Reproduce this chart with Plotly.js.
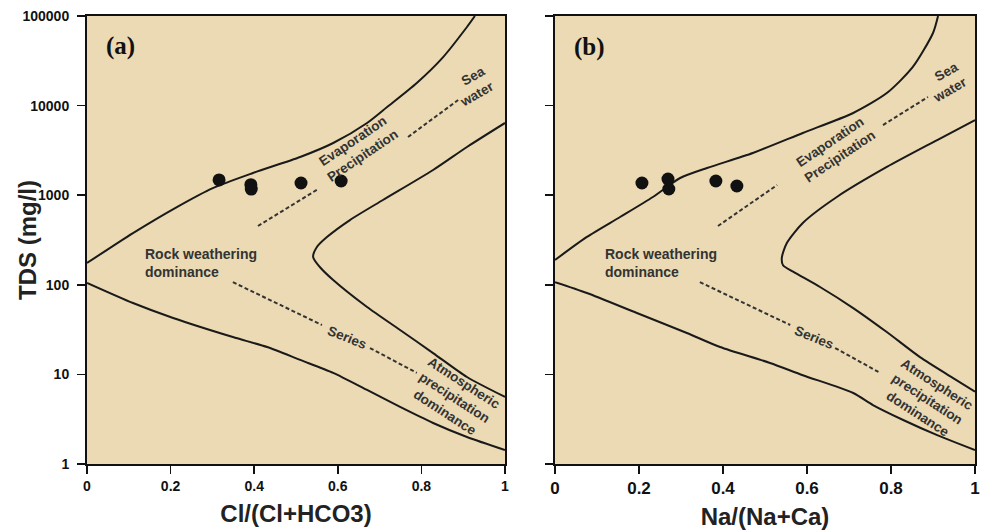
<!DOCTYPE html>
<html>
<head>
<meta charset="utf-8">
<script src="https://cdn.plot.ly/plotly-3.0.1.min.js"></script>
<style>html,body{margin:0;padding:0;background:#fff;}#chart{width:984px;height:530px;}</style>
</head>
<body>
<div id="chart"></div>
<script>
// ---------- Panel (a): Cl/(Cl+HCO3) ----------
const aUpperX = [0, 0.110, 0.215, 0.301, 0.397, 0.510, 0.589, 0.670, 0.718, 0.789, 0.852, 0.909, 0.928];
const aUpperY = [175, 378, 738, 1202, 1770, 2670, 3825, 6400, 9650, 17900, 34800, 75400, 100000];
const aInnerX = [1, 0.909, 0.828, 0.708, 0.629, 0.574, 0.550, 0.541, 0.557, 0.589, 0.670, 0.749, 0.828, 0.909, 1];
const aInnerY = [6400, 3450, 1910, 884, 528, 341, 264, 204, 158, 113, 56.5, 31.3, 17.3, 9.35, 5.6];
const aLowerX = [0, 0.110, 0.206, 0.349, 0.431, 0.510, 0.589, 0.670, 0.749, 0.828, 0.909, 1];
const aLowerY = [105, 62.6, 42.6, 26.1, 20.2, 14.5, 10.4, 6.7, 4.33, 2.87, 2.0, 1.43];
const aEvapDash1X = [0.409, 0.553], aEvapDash1Y = [453, 1172];
const aEvapDash2X = [0.768, 0.888], aEvapDash2Y = [4466, 11550];
const aSerDash1X = [0.349, 0.562], aSerDash1Y = [107, 35.6];
const aSerDash2X = [0.677, 0.789], aSerDash2Y = [19.7, 10.4];
const aSampleX = [0.316, 0.392, 0.393, 0.512, 0.608];
const aSampleY = [1479, 1310, 1170, 1368, 1440];

// ---------- Panel (b): Na/(Na+Ca) ----------
const bUpperX = [0, 0.076, 0.155, 0.233, 0.298, 0.362, 0.471, 0.590, 0.710, 0.790, 0.852, 0.900, 0.912];
const bUpperY = [189, 342, 571, 955, 1556, 2013, 2960, 4950, 8270, 13800, 27000, 64600, 100000];
const bInnerX = [1, 0.910, 0.790, 0.671, 0.590, 0.552, 0.540, 0.543, 0.567, 0.631, 0.710, 0.790, 0.869, 0.948, 1];
const bInnerY = [6900, 4130, 2065, 955, 490, 293, 200, 165, 140, 94.5, 55, 29.7, 15.6, 9.1, 6.4];
const bLowerX = [0, 0.076, 0.195, 0.314, 0.393, 0.512, 0.590, 0.710, 0.757, 0.829, 0.910, 1];
const bLowerY = [107, 81, 48.4, 29, 20.2, 13.4, 9.8, 6.2, 4.55, 3.1, 2.1, 1.43];
const bEvapDash1X = [0.388, 0.529], bEvapDash1Y = [453, 1300];
const bEvapDash2X = [0.781, 0.888], bEvapDash2Y = [6070, 12470];
const bSerDash1X = [0.345, 0.560], bSerDash1Y = [107, 35.6];
const bSerDash2X = [0.667, 0.774], bSerDash2Y = [19.7, 10.4];
const bSampleX = [0.207, 0.269, 0.271, 0.383, 0.433];
const bSampleY = [1368, 1517, 1173, 1440, 1267];

// Tick labels
const xTickVals = [0, 0.2, 0.4, 0.6, 0.8, 1];
const xTickText = ['0', '0.2', '0.4', '0.6', '0.8', '1'];
const yTickVals = [1, 10, 100, 1000, 10000, 100000];
const yTickText = ['1', '10', '100', '1000', '10000', '100000'];

const LINE = '#1a1a1a';
const TXT = '#333333';

function curve(x, y, xa, ya) {
  return {x: x, y: y, xaxis: xa, yaxis: ya, mode: 'lines', type: 'scatter',
    line: {color: LINE, width: 2, shape: 'spline', smoothing: 0.7}, hoverinfo: 'skip', showlegend: false};
}
function dashed(x, y, xa, ya) {
  return {x: x, y: y, xaxis: xa, yaxis: ya, mode: 'lines', type: 'scatter',
    line: {color: TXT, width: 2, dash: '4px,2.5px'}, hoverinfo: 'skip', showlegend: false};
}
function samples(x, y, xa, ya) {
  return {x: x, y: y, xaxis: xa, yaxis: ya, mode: 'markers', type: 'scatter',
    marker: {color: '#111', size: 13}, showlegend: false};
}

const data = [
  curve(aUpperX, aUpperY, 'x', 'y'),
  curve(aInnerX, aInnerY, 'x', 'y'),
  curve(aLowerX, aLowerY, 'x', 'y'),
  dashed(aEvapDash1X, aEvapDash1Y, 'x', 'y'),
  dashed(aEvapDash2X, aEvapDash2Y, 'x', 'y'),
  dashed(aSerDash1X, aSerDash1Y, 'x', 'y'),
  dashed(aSerDash2X, aSerDash2Y, 'x', 'y'),
  samples(aSampleX, aSampleY, 'x', 'y'),
  curve(bUpperX, bUpperY, 'x2', 'y2'),
  curve(bInnerX, bInnerY, 'x2', 'y2'),
  curve(bLowerX, bLowerY, 'x2', 'y2'),
  dashed(bEvapDash1X, bEvapDash1Y, 'x2', 'y2'),
  dashed(bEvapDash2X, bEvapDash2Y, 'x2', 'y2'),
  dashed(bSerDash1X, bSerDash1Y, 'x2', 'y2'),
  dashed(bSerDash2X, bSerDash2Y, 'x2', 'y2'),
  samples(bSampleX, bSampleY, 'x2', 'y2')
];

const W = 984, H = 530;
const yDom = [1 - 464 / H, 1 - 16 / H];

function xAxis(dom, fontSize, title) {
  return {domain: dom, range: [0, 1], tickvals: xTickVals, ticktext: xTickText,
    showline: true, mirror: true, linecolor: '#111', linewidth: 2, zeroline: false, showgrid: false,
    ticks: 'outside', ticklen: 8, tickwidth: 1.5, tickcolor: '#111',
    tickfont: {family: 'Liberation Sans, Arial, sans-serif', size: fontSize, color: '#111', weight: 'bold'},
    title: {text: title, standoff: 12, font: {family: 'Liberation Sans, Arial, sans-serif', size: 24, color: '#222', weight: 'bold'}},
    fixedrange: true};
}
function yAxis(anchor, showLabels) {
  return {domain: yDom, anchor: anchor, type: 'log', range: [0, 5], tickvals: yTickVals, ticktext: yTickText,
    showticklabels: showLabels, showline: true, mirror: true, linecolor: '#111', linewidth: 2,
    zeroline: false, showgrid: false, ticks: 'outside', ticklen: 8, tickwidth: 1.5, tickcolor: '#111',
    ticklabelstandoff: 5,
    tickfont: {family: 'Liberation Sans, Arial, sans-serif', size: 14, color: '#111', weight: 'bold'},
    fixedrange: true};
}

const lblFont = {family: 'Liberation Sans, Arial, sans-serif', size: 13.5, color: TXT, weight: 'bold'};
const rwFont = {family: 'Liberation Sans, Arial, sans-serif', size: 14, color: TXT, weight: 'bold'};
const panelFont = {family: 'Liberation Serif, Times New Roman, serif', size: 25, color: '#111', weight: 'bold'};

function panelAnnots(xr, yr, letter, pos) {
  return [
    {xref: xr, yref: yr, x: pos.letter[0], y: pos.letter[1], text: letter, showarrow: false, font: panelFont},
    {xref: xr, yref: yr, x: pos.rock[0], y: pos.rock[1], text: 'Rock weathering<br>dominance', showarrow: false,
      xanchor: 'left', align: 'left', font: rwFont},
    {xref: xr, yref: yr, x: pos.evap[0], y: pos.evap[1], text: 'Evaporation<br>Precipitation', showarrow: false,
      textangle: -34, font: lblFont},
    {xref: xr, yref: yr, x: pos.sea[0], y: pos.sea[1], text: 'Sea<br>water', showarrow: false,
      textangle: -30, align: 'right', font: lblFont},
    {xref: xr, yref: yr, x: pos.series[0], y: pos.series[1], text: 'Series', showarrow: false,
      textangle: 22, font: lblFont},
    {xref: xr, yref: yr, x: pos.atm[0], y: pos.atm[1], text: 'Atmospheric<br>precipitation<br>dominance', showarrow: false,
      textangle: 33, font: lblFont}
  ];
}

const annotations = [].concat(
  panelAnnots('x', 'y', '(a)', {letter: [0.079, 4.665], rock: [0.134, 2.238], evap: [0.648, 3.52],
    sea: [0.923, 4.213], series: [0.622, 1.417], atm: [0.880, 0.737]}),
  panelAnnots('x2', 'y2', '(b)', {letter: [0.083, 4.654], rock: [0.114, 2.238], evap: [0.666, 3.514],
    sea: [0.930, 4.263], series: [0.617, 1.417], atm: [0.886, 0.725]}),
  [{xref: 'paper', yref: 'paper', x: 27 / W, y: 1 - 240 / H, xanchor: 'center', yanchor: 'middle',
    text: 'TDS (mg/l)', textangle: -90, showarrow: false,
    font: {family: 'Liberation Sans, Arial, sans-serif', size: 24, color: '#222', weight: 'bold'}}]
);

const layout = {
  width: W, height: H,
  margin: {l: 0, r: 0, t: 0, b: 0},
  paper_bgcolor: '#ffffff',
  plot_bgcolor: '#ebdab4',
  showlegend: false,
  xaxis: Object.assign(xAxis([87 / W, 505 / W], 14, 'Cl/(Cl+HCO3)'), {anchor: 'y'}),
  yaxis: yAxis('x', true),
  xaxis2: Object.assign(xAxis([555 / W, 975 / W], 17, 'Na/(Na+Ca)'), {anchor: 'y2'}),
  yaxis2: yAxis('x2', false),
  annotations: annotations
};

Plotly.newPlot('chart', data, layout, {displayModeBar: false, staticPlot: true});
</script>
</body>
</html>
